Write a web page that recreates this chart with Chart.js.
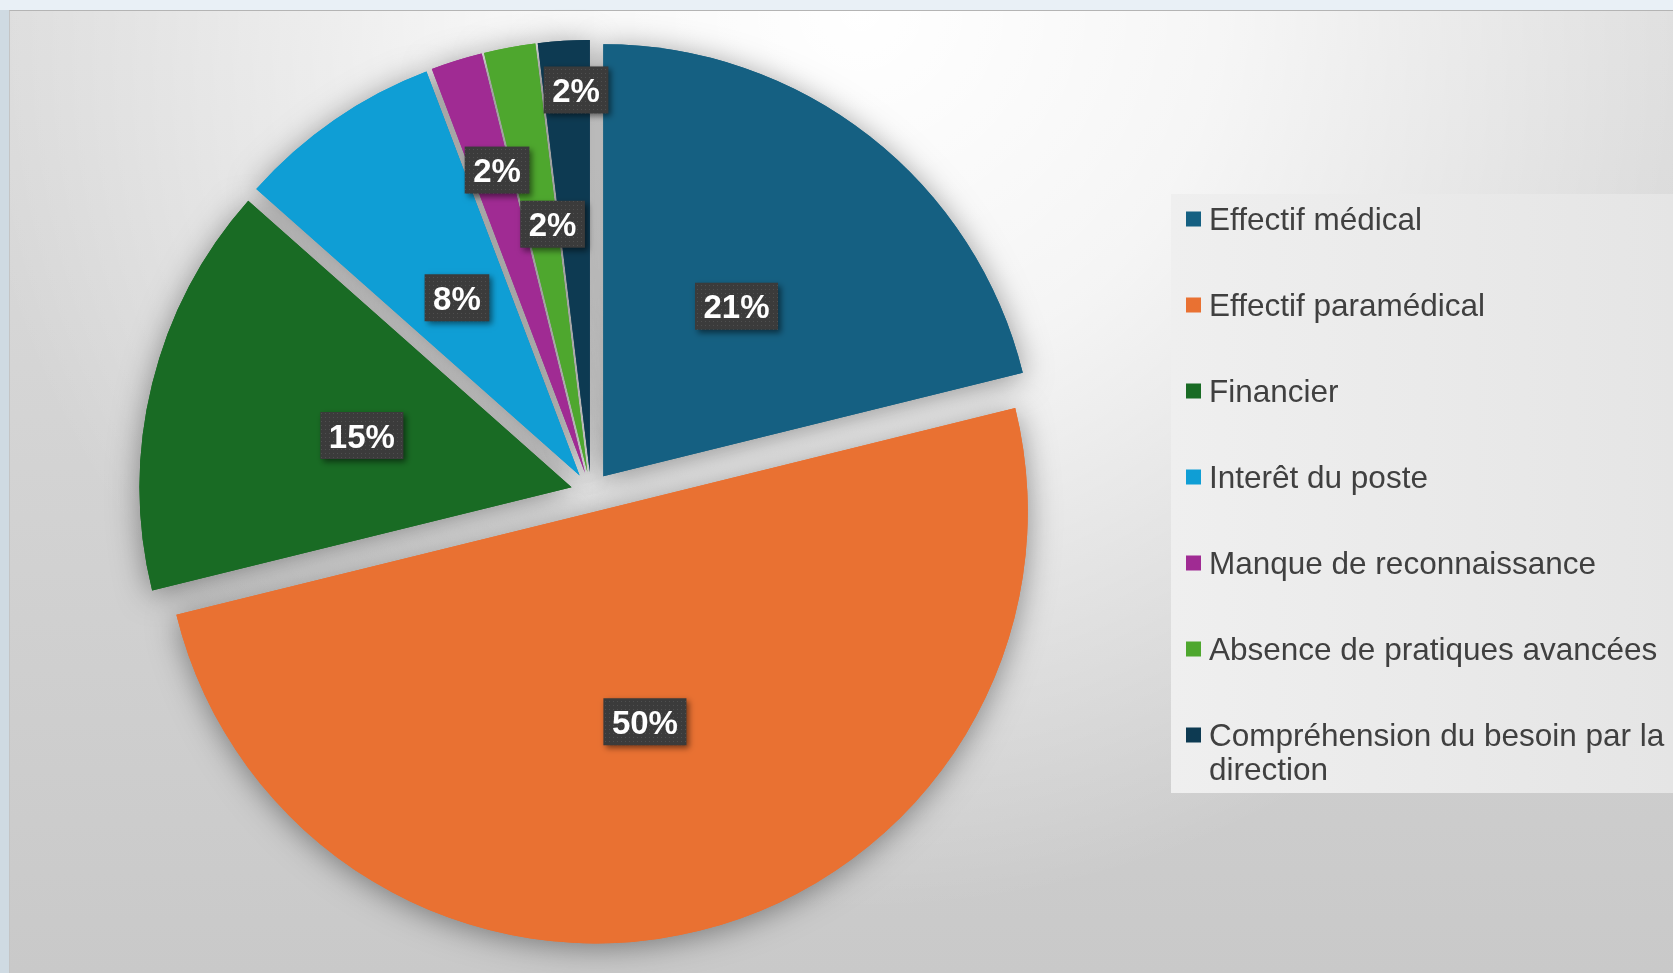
<!DOCTYPE html>
<html lang="fr">
<head>
<meta charset="utf-8">
<title>Motifs de départ</title>
<script src="https://cdn.jsdelivr.net/npm/chart.js"></script>
<style>
  html, body { margin: 0; padding: 0; }
  body { width: 1673px; height: 973px; overflow: hidden; position: relative; background: #e9f0f6; }
  #bordGauche { position: absolute; left: 0; top: 10px; width: 9px; bottom: 0; background: #cfdae2; }
  #fond {
    position: absolute; left: 9px; top: 10px; right: 0; bottom: 0;
    border-top: 1px solid #b4b4b4; border-left: 1px solid #c4c4c4;
    background:
      radial-gradient(ellipse 900px 900px at 850px 0px, rgba(255,255,255,1) 0%, rgba(255,255,255,0.75) 40%, rgba(255,255,255,0) 100%),
      linear-gradient(to bottom, #dcdcdc, #c9c9c9);
  }
  #graphique { position: absolute; left: 0; top: 0; }
</style>
</head>
<body>
<div id="bordGauche"></div>
<div id="fond"></div>
<canvas id="graphique" width="1673" height="973"></canvas>
<script>
// Données du graphique (réponses)
var categories = [
  'Effectif médical',
  'Effectif paramédical',
  'Financier',
  'Interêt du poste',
  'Manque de reconnaissance',
  'Absence de pratiques avancées',
  'Compréhension du besoin par la direction'
];
var valeurs = [11, 26, 8, 4, 1, 1, 1];
var couleurs = ['#156082', '#E97132', '#196B24', '#0F9ED5', '#A02B93', '#4EA72E', '#0D3A52'];

// Position des étiquettes dans chaque part (fraction du rayon, décalage en degrés)
var rayonEtiquette = [0.5, 0.5, 0.5, 0.5, 0.73, 0.58, 0.885];
var angleEtiquette = [0, 0.7, 0, 0, 1.1, 2.4, 1.4];

var ECART = 20; // éclatement des parts, en pixels
var total = valeurs.reduce(function(a, b) { return a + b; }, 0);

// Motif à points des étiquettes
var motifCanvas = document.createElement('canvas');
motifCanvas.width = 4; motifCanvas.height = 4;
var mctx = motifCanvas.getContext('2d');
mctx.fillStyle = 'rgba(255,255,255,0.10)';
mctx.fillRect(1, 1, 1, 1);

// Dessine les parts éclatées (même écart pour toutes), avec une ombre douce dessous
function dessinerParts(chart, ombre) {
  var ctx = chart.ctx;
  ctx.save();
  if (ombre) {
    ctx.shadowColor = 'rgba(0,0,0,0.4)';
    ctx.shadowBlur = 30;
    ctx.shadowOffsetY = 4;
  }
  chart.getDatasetMeta(0).data.forEach(function(arc) {
    var mid = (arc.startAngle + arc.endAngle) / 2;
    ctx.save();
    ctx.translate(Math.cos(mid) * ECART, Math.sin(mid) * ECART);
    arc.draw(ctx);
    ctx.restore();
  });
  ctx.restore();
}

var partsEclatees = {
  id: 'partsEclatees',
  beforeDatasetsDraw: function(chart) {
    dessinerParts(chart, true);
    dessinerParts(chart, false);
    return false;
  }
};

// Étiquettes de pourcentage
var etiquettes = {
  id: 'etiquettes',
  afterDraw: function(chart) {
    var ctx = chart.ctx;
    var motif = ctx.createPattern(motifCanvas, 'repeat');
    var meta = chart.getDatasetMeta(0);
    ctx.save();
    ctx.font = 'bold 33px "Liberation Sans", Arial, sans-serif';
    ctx.textAlign = 'center';
    ctx.textBaseline = 'alphabetic';
    meta.data.forEach(function(arc, i) {
      var mid = (arc.startAngle + arc.endAngle) / 2;
      var cx = arc.x + Math.cos(mid) * ECART;
      var cy = arc.y + Math.sin(mid) * ECART;
      var a = mid + angleEtiquette[i] * Math.PI / 180;
      var r = arc.outerRadius * rayonEtiquette[i];
      var x = cx + Math.cos(a) * r;
      var y = cy + Math.sin(a) * r;
      var txt = Math.round(valeurs[i] / total * 100) + '%';
      var w = ctx.measureText(txt).width + 17;
      var h = 47;
      ctx.save();
      ctx.shadowColor = 'rgba(0,0,0,0.5)';
      ctx.shadowBlur = 6;
      ctx.shadowOffsetX = 3;
      ctx.shadowOffsetY = 3;
      ctx.fillStyle = '#3b3b3b';
      ctx.fillRect(x - w / 2, y - h / 2, w, h);
      ctx.restore();
      ctx.fillStyle = motif;
      ctx.fillRect(x - w / 2, y - h / 2, w, h);
      ctx.fillStyle = '#ffffff';
      ctx.fillText(txt, x, y + 12);
    });
    ctx.restore();
  }
};

function couper(ctx, texte, largeur) {
  var mots = texte.split(' ');
  var lignes = [];
  var ligne = '';
  mots.forEach(function(m) {
    var essai = ligne ? ligne + ' ' + m : m;
    if (ctx.measureText(essai).width > largeur && ligne) {
      lignes.push(ligne);
      ligne = m;
    } else {
      ligne = essai;
    }
  });
  lignes.push(ligne);
  return lignes;
}

// Légende à droite, sur son cadre clair
var legende = {
  id: 'legende',
  beforeDraw: function(chart) {
    var ctx = chart.ctx;
    var g = ctx.createLinearGradient(1171, 0, 1673, 0);
    g.addColorStop(0, '#efefef');
    g.addColorStop(1, '#e5e5e5');
    ctx.fillStyle = g;
    ctx.fillRect(1171, 194, 502, 599);
  },
  afterDraw: function(chart) {
    var ctx = chart.ctx;
    ctx.save();
    ctx.font = '31.5px "Liberation Sans", Arial, sans-serif';
    ctx.textBaseline = 'alphabetic';
    ctx.textAlign = 'left';
    var base = 230;
    chart.data.labels.forEach(function(lab, i) {
      var lignes = couper(ctx, lab, 462);
      ctx.fillStyle = chart.data.datasets[0].backgroundColor[i];
      ctx.fillRect(1186, base - 11 - 7.5, 15, 15);
      ctx.fillStyle = '#404040';
      lignes.forEach(function(l, k) {
        ctx.fillText(l, 1209, base + k * 34);
      });
      base += 86;
    });
    ctx.restore();
  }
};

var graphique = new Chart(document.getElementById('graphique').getContext('2d'), {
  type: 'pie',
  data: {
    labels: categories,
    datasets: [{
      data: valeurs,
      backgroundColor: couleurs,
      borderWidth: 0,
      hoverOffset: 0
    }]
  },
  options: {
    responsive: false,
    animation: false,
    radius: 432,
    layout: { padding: { left: 0, right: 491, top: 11, bottom: 0 } },
    plugins: {
      legend: { display: false },
      tooltip: { enabled: false }
    }
  },
  plugins: [partsEclatees, etiquettes, legende]
});
</script>
</body>
</html>
